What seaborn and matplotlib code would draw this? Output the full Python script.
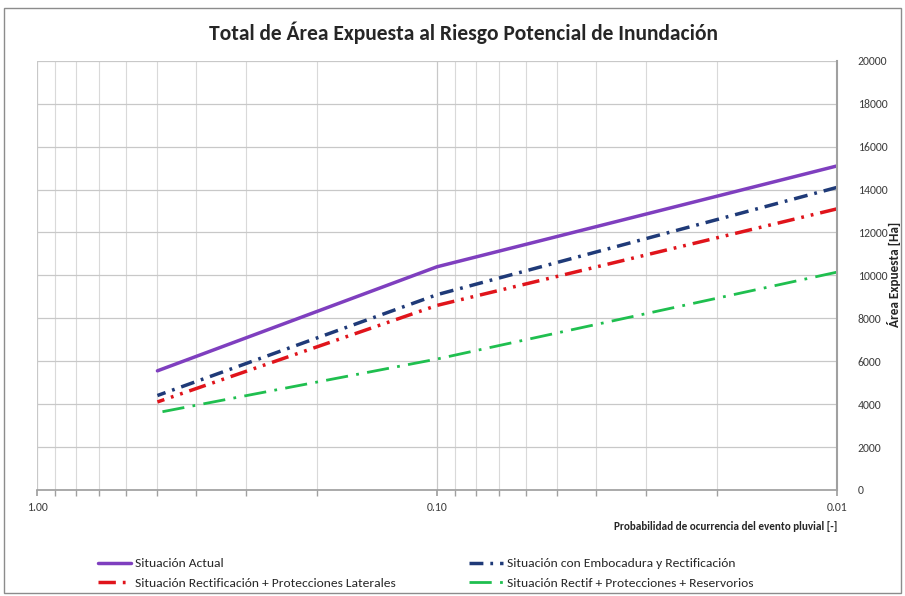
import pandas as pd
import seaborn as sns
import matplotlib.pyplot as plt
import matplotlib.ticker as ticker
from matplotlib.patches import Rectangle

# Data
probabilidad = [0.5, 0.1, 0.01]
situacion_actual = [5550, 10400, 15100]
situacion_embocadura = [4400, 9100, 14100]
situacion_rect_prot = [4100, 8600, 13100]
situacion_reservorios = [3600, 6100, 10150]

series_names = [
    "Situación Actual",
    "Situación Rectificación + Protecciones Laterales",
    "Situación con Embocadura y Rectificación",
    "Situación Rectif + Protecciones + Reservorios",
]
series_values = [situacion_actual, situacion_rect_prot, situacion_embocadura, situacion_reservorios]

y_ticks = list(range(0, 20001, 2000))
x_major = [1.0, 0.1, 0.01]
x_labels = ["1.00", "0.10", "0.01"]

rows = []
for name, vals in zip(series_names, series_values):
    for p, v in zip(probabilidad, vals):
        rows.append({"serie": name, "prob": p, "area": v})
df = pd.DataFrame(rows)

sns.set_theme(style="white")
plt.rcParams['font.family'] = ['Carlito', 'Lato', 'DejaVu Sans']

palette = {
    series_names[0]: "#7f3fbf",
    series_names[1]: "#e0141b",
    series_names[2]: "#1f3a78",
    series_names[3]: "#1fbf4f",
}
dashes = {
    series_names[0]: "",
    series_names[1]: (5, 2, 0.8, 2, 0.8, 2),
    series_names[2]: (4, 2, 0.8, 2),
    series_names[3]: (8, 3, 1, 3),
}

fig = plt.figure(figsize=(9.05, 5.96), dpi=100)
ax = fig.add_axes([0.0409, 0.178, 0.884, 0.72])

sns.lineplot(data=df, x="prob", y="area", hue="serie", style="serie",
             hue_order=series_names, style_order=series_names,
             palette=palette, dashes=dashes, linewidth=2.5, ax=ax)
for line in ax.get_lines():
    if line.get_color() == palette[series_names[3]]:
        line.set_linewidth(2.0)

ax.set_xscale("log")
ax.set_xlim(1.0, 0.01)
ax.set_ylim(0, 20000)
ax.xaxis.set_major_locator(ticker.FixedLocator(x_major))
ax.xaxis.set_major_formatter(ticker.FixedFormatter(x_labels))
ax.xaxis.set_minor_locator(ticker.LogLocator(base=10, subs=range(2, 10)))
ax.xaxis.set_minor_formatter(ticker.NullFormatter())
ax.yaxis.tick_right()
ax.set_yticks(y_ticks)
ax.set_yticklabels([str(t) for t in y_ticks])

ax.grid(True, which="major", axis="both", color="#c8c8c8", linewidth=0.9)
ax.grid(True, which="minor", axis="x", color="#d9d9d9", linewidth=0.8)
ax.set_axisbelow(True)
ax.tick_params(axis="x", which="both", bottom=True, length=4, color="#a0a0a0",
               labelsize=8.5, labelcolor="#404040", pad=5)
ax.tick_params(axis="y", right=False, labelsize=8.5, labelcolor="#404040", pad=9)
for side in ["top", "left"]:
    ax.spines[side].set_visible(False)
ax.spines["bottom"].set_color("#a0a0a0")
ax.spines["right"].set_color("#a0a0a0")
ax.spines["right"].set_linewidth(1.5)

ax.set_xlabel("")
ax.set_ylabel("")
fig.text(0.988, 0.54, "Área Expuesta [Ha]", rotation=90,
         ha="center", va="center", fontsize=9.5, fontweight="bold")
fig.text(0.925, 0.116, "Probabilidad de ocurrencia del evento pluvial [-]",
         ha="right", va="center", fontsize=8, fontweight="bold")
fig.text(0.512, 0.945, "Total de Área Expuesta al Riesgo Potencial de Inundación",
         ha="center", va="center", fontsize=15.5, fontweight="bold")

handles, labels = ax.get_legend_handles_labels()
ax.legend_.remove()
fig.legend(handles, labels, loc="upper left", bbox_to_anchor=(0.108, 0.064),
           ncol=2, frameon=False, fontsize=9.7, handlelength=2.5,
           handletextpad=0.3, columnspacing=5.4, labelspacing=0.62,
           borderaxespad=0, borderpad=0)

fig.patches.append(Rectangle((0.004, 0.005), 0.992, 0.982, transform=fig.transFigure,
                             fill=False, edgecolor="#8c8c8c", linewidth=1.0))

plt.savefig("out.png", dpi=100)
